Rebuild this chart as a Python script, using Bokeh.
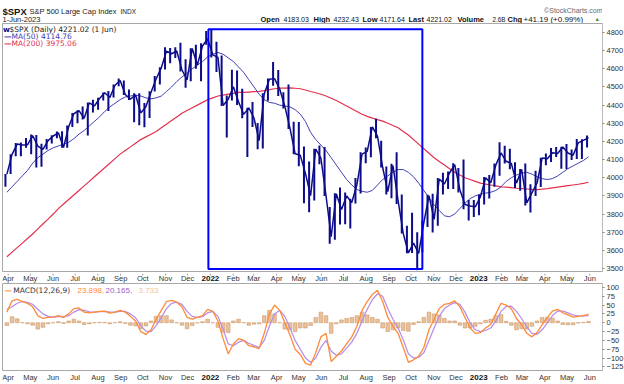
import pandas as pd
from bokeh.plotting import figure
from bokeh.models import Range1d, FixedTicker, Label, BoxAnnotation
from bokeh.layouts import column
from bokeh.core.properties import value
from bokeh.embed import file_html
from bokeh.resources import INLINE

# ---------------- data (weekly readings) ----------------
week_ends = pd.date_range("2021-04-02", "2023-06-02", freq="W-FRI")

close = [4019.87, 4128.80, 4185.47, 4180.17, 4181.17, 4232.60, 4173.85, 4155.86, 4204.11, 4229.89,
         4247.44, 4166.45, 4280.70, 4352.34, 4369.55, 4327.16, 4411.79, 4395.26, 4436.52, 4468.00,
         4441.67, 4509.37, 4535.43, 4458.58, 4432.99, 4455.48, 4357.04, 4391.34, 4471.37, 4544.90,
         4605.38, 4697.53, 4682.85, 4697.96, 4594.62, 4538.43, 4712.02, 4620.64, 4725.79, 4766.18,
         4677.03, 4662.85, 4397.94, 4431.85, 4500.53, 4418.64, 4348.87, 4384.65, 4328.87, 4204.31,
         4463.12, 4543.06, 4545.86, 4488.28, 4392.59, 4271.78, 4131.93, 4123.34, 4023.89, 3901.36,
         4158.24, 4108.54, 3900.86, 3674.84, 3911.74, 3825.33, 3899.38, 3863.16, 3961.63, 4130.29,
         4145.19, 4280.15, 4228.48, 4057.66, 3924.26, 4067.36, 3873.33, 3693.23, 3585.62, 3639.66,
         3583.07, 3752.75, 3901.06, 3770.55, 3992.93, 3965.34, 4026.12, 4071.70, 3934.38, 3852.36,
         3844.82, 3839.50,
         3895.08, 3999.09, 3972.61, 4070.56, 4136.48, 4090.46, 4079.09, 3970.04, 4045.64, 3861.59,
         3916.64, 3970.99, 4109.31, 4105.02, 4137.64, 4133.52, 4169.48, 4136.25, 4124.08, 4191.98,
         4205.45, 4221.02]

high = [4020, 4130, 4191, 4194, 4219, 4238, 4236, 4187, 4213, 4234,
        4255, 4256, 4287, 4356, 4372, 4393, 4415, 4430, 4440, 4470,
        4478, 4513, 4546, 4536, 4486, 4466, 4466, 4412, 4476, 4560,
        4608, 4718, 4714, 4718, 4744, 4652, 4713, 4732, 4741, 4808,
        4818, 4749, 4673, 4453, 4595, 4590, 4490, 4385, 4417, 4302,
        4465, 4546, 4637, 4593, 4471, 4513, 4309, 4307, 4172, 4090,
        4159, 4178, 4169, 3839, 3914, 3946, 3918, 3884, 3999, 4140,
        4167, 4280, 4325, 4203, 4062, 4077, 4140, 3907, 3736, 3807,
        3700, 3763, 3906, 3912, 3998, 4028, 4034, 4080, 4053, 4101,
        3877, 3878,
        3906, 4004, 4015, 4078, 4195, 4176, 4160, 4085, 4048, 4079,
        3964, 4039, 4110, 4133, 4164, 4169, 4171, 4186, 4155, 4213,
        4212, 4232]

low = [3950, 4020, 4118, 4118, 4165, 4130, 4056, 4061, 4156, 4188,
       4218, 4165, 4165, 4279, 4300, 4321, 4233, 4359, 4375, 4425,
       4367, 4442, 4504, 4456, 4428, 4306, 4289, 4278, 4329, 4475,
       4513, 4596, 4630, 4659, 4585, 4495, 4532, 4600, 4531, 4733,
       4662, 4582, 4395, 4222, 4425, 4401, 4327, 4114, 4279, 4157,
       4161, 4424, 4506, 4450, 4381, 4269, 4129, 4063, 3859, 3810,
       3875, 4074, 3900, 3636, 3659, 3743, 3744, 3721, 3858, 3913,
       4080, 4113, 4218, 4057, 3907, 3887, 3855, 3693, 3584, 3585,
       3491, 3590, 3728, 3698, 3735, 3907, 3938, 3938, 3918, 3827,
       3764, 3784,
       3794, 3853, 3885, 3950, 4011, 4079, 4047, 3943, 3928, 3847,
       3808, 3899, 3949, 4069, 4086, 4114, 4049, 4048, 4098, 4103,
       4103, 4166]

ma50 = [3920, 3950, 3980, 4010, 4040, 4080, 4110, 4130, 4150, 4165,
        4175, 4185, 4195, 4215, 4240, 4260, 4285, 4310, 4335, 4365,
        4390, 4410, 4430, 4445, 4450, 4455, 4450, 4440, 4435, 4440,
        4450, 4475, 4500, 4530, 4555, 4575, 4600, 4620, 4640, 4665,
        4680, 4690, 4680, 4660, 4640, 4610, 4580, 4540, 4500, 4460,
        4430, 4415, 4410, 4400, 4395, 4390, 4375, 4350, 4310, 4250,
        4210, 4180, 4150, 4110, 4070, 4030, 3990, 3960, 3935, 3925,
        3920, 3930, 3960, 3990, 4010, 4030, 4045, 4045, 4030, 4005,
        3970, 3930, 3890, 3850, 3820, 3790, 3785, 3800, 3830, 3860,
        3885, 3900,
        3910, 3915, 3920, 3930, 3950, 3980, 4000, 4015, 4025, 4030,
        4020, 4005, 3995, 3990, 3995, 4010, 4030, 4050, 4065, 4080,
        4095, 4114.76]

ma200 = [3565, 3590, 3615, 3640, 3665, 3690, 3718, 3745, 3772, 3800,
         3830, 3855, 3880, 3905, 3930, 3955, 3980, 4005, 4030, 4055,
         4080, 4105, 4130, 4150, 4170, 4190, 4210, 4225, 4240, 4255,
         4275, 4295, 4315, 4335, 4355, 4370, 4385, 4400, 4415, 4430,
         4440, 4450, 4455, 4460, 4465, 4470, 4470, 4472, 4474, 4476,
         4480, 4485, 4490, 4493, 4494, 4495, 4493, 4490, 4483, 4475,
         4468, 4460, 4450, 4438, 4425, 4410, 4395, 4380, 4365, 4350,
         4338, 4328, 4320, 4312, 4300, 4288, 4275, 4255, 4235, 4210,
         4185, 4160, 4135, 4110, 4090, 4070, 4050, 4030, 4015, 4000,
         3990, 3980,
         3970, 3965, 3960, 3955, 3950, 3948, 3945, 3942, 3940, 3938,
         3936, 3935, 3937, 3940, 3944, 3948, 3952, 3956, 3960, 3964,
         3969, 3975.06]

macd = [30, 62, 66, 60, 55, 45, 20, 12, 15, 16,
        20, 15, 25, 40, 42, 30, 28, 30, 32, 33,
        27, 30, 35, 30, 18, 5, -25, -33, -20, 10,
        35, 60, 63, 58, 45, 15, 10, 15, 20, 38,
        32, 5, -45, -88, -60, -45, -50, -65, -68, -73,
        -30, 25, 50, 35, 0, -35, -75, -90, -115, -120,
        -85, -40, -30, -110, -95, -80, -60, -40, -10, 35,
        60, 80, 92, 60, 15, -10, -30, -70, -112, -105,
        -95, -70, -20, 10, 40, 52, 55, 62, 45, 15,
        -15, -30,
        -28, -15, -5, 25, 55, 50, 40, 12, -5, -30,
        -40, -28, -5, 15, 33, 38, 28, 22, 16, 18,
        20, 23.898]

signal = [38, 45, 55, 60, 58, 52, 38, 25, 18, 16,
          17, 17, 20, 30, 37, 35, 31, 30, 31, 32,
          30, 30, 32, 32, 25, 14, -8, -24, -25, -8,
          15, 40, 55, 58, 52, 32, 18, 15, 17, 28,
          32, 18, -18, -60, -65, -55, -50, -58, -64, -70,
          -50, -10, 25, 35, 18, -15, -50, -75, -100, -112,
          -100, -70, -50, -80, -92, -88, -72, -55, -30, 5,
          38, 65, 82, 75, 40, 10, -15, -48, -88, -100,
          -98, -85, -50, -15, 18, 40, 50, 57, 52, 30,
          0, -20,
          -25, -22, -15, 5, 32, 46, 47, 32, 12, -12,
          -30, -33, -20, 0, 20, 33, 33, 28, 22, 19,
          19, 20.165]

hist = [-8, 17, 11, 0, -3, -7, -18, -13, -3, 0,
        3, -2, 5, 10, 5, -5, -3, 0, 1, 1,
        -3, 0, 3, -2, -7, -9, -17, -9, 5, 18,
        20, 20, 8, 0, -7, -17, -8, 0, 3, 10,
        0, -13, -27, -28, 5, 10, 0, -7, -4, -3,
        20, 35, 25, 0, -18, -20, -25, -15, -15, -8,
        15, 30, 20, -30, -3, 8, 12, 15, 20, 30,
        22, 15, 10, -15, -25, -20, -15, -22, -24, -5,
        3, 15, 30, 25, 22, 12, 5, 5, -7, -15,
        -15, -10,
        -3, 7, 10, 20, 23, 4, -7, -20, -17, -18,
        -10, 5, 15, 15, 13, 5, -5, -6, -6, -1,
        1, 3.733]

price_ticks = list(range(3500, 4801, 100))
macd_ticks = list(range(-125, 101, 25))
month_starts = pd.date_range("2021-04-01", "2023-06-01", freq="MS")

box_dates = ["2022-01-01", "2022-10-19"]
box_levels = [3497, 4818]

header_left = ["$SPX", "S&P 500 Large Cap Index", "INDX"]
header_date = "1-Jun-2023"
quote_labels = ["Open", "High", "Low", "Last", "Volume", "Chg"]
quote_values = ["4183.03", "4232.43", "4171.64", "4221.02", "2.6B", "+41.19 (+0.99%)"]

# ---------------- styling ----------------
NAVY = "#0c0c8a"
MA50C = "#4040b4"
MA200C = "#e3304f"
ORANGE = "#ff8a38"
PURPLE = "#b78be6"
AXF = "Liberation Sans"
LEGF = "DejaVu Sans"

DAY = 86400000.0

def ms(d):
    return pd.Timestamp(d).value / 1e6

dates = [ms(d) for d in week_ends]
bar_x = [ms(d - pd.Timedelta(days=2)) for d in week_ends]
tick_ms = [ms(d) for d in month_starts]

x_start, x_end = ms("2021-03-27"), ms("2023-06-21")
FW = 600
LB = 2
HH = 23
FH1 = 249
SH1 = 11
FH2 = 88
SH2 = 12
PX_DAYS = (x_end - x_start) / FW  # ms per pixel


def bare(fig):
    fig.xgrid.visible = False
    fig.ygrid.visible = False
    fig.outline_line_color = None
    return fig


def style_panel(p, yticks):
    p.xgrid.visible = False
    p.ygrid.visible = False
    p.outline_line_color = "#a8a8a8"
    ya = p.yaxis[0]
    ya.ticker = FixedTicker(ticks=yticks)
    ya.major_label_text_font = AXF
    ya.major_label_text_font_size = "7.5px"
    ya.major_label_text_color = "#333333"
    ya.major_tick_out = 2
    ya.major_tick_in = 0
    ya.minor_tick_out = 0
    ya.minor_tick_in = 0
    ya.major_label_standoff = 2
    ya.axis_line_color = "#bbbbbb"
    ya.major_tick_line_color = "#888888"


def date_strip(sh, ty, ticks=True):
    # strip spans from the canvas left edge so the first label is not clipped
    xr = Range1d(x_start - LB * PX_DAYS, x_end)
    s = figure(x_range=xr, y_range=Range1d(0, sh), frame_width=FW + LB, frame_height=sh,
               x_axis_location=None, y_axis_location=None, output_backend="svg",
               toolbar_location=None, min_border_left=0, min_border_right=0,
               min_border_top=0, min_border_bottom=0)
    bare(s)
    if ticks:
        s.segment(x0=tick_ms, y0=[sh] * len(tick_ms), x1=tick_ms, y1=[sh - 2] * len(tick_ms),
                  line_color="#999999", line_width=1)
    months = [(t, d.strftime("%b")) for t, d in zip(tick_ms, month_starts) if d.month != 1]
    years = [(t, str(d.year)) for t, d in zip(tick_ms, month_starts) if d.month == 1]
    s.text(x=[m[0] for m in months], y=[ty] * len(months), text=[m[1] for m in months],
           text_font=value(AXF), text_font_size="7.5px", text_color="#333333",
           text_align="center", text_baseline="middle")
    s.text(x=[m[0] for m in years], y=[ty] * len(years), text=[m[1] for m in years],
           text_font=value(AXF), text_font_size="8px", text_font_style="bold",
           text_color="#111111", text_align="center", text_baseline="middle")
    return s


def lab(p, x, y, text, size, color="#222222", bold=False, align="left", baseline="middle", font=LEGF):
    p.add_layout(Label(x=x, y=y, x_units="screen", y_units="screen", text=text,
                       text_font=font, text_font_size=size, text_color=color,
                       text_font_style="bold" if bold else "normal",
                       text_align=align, text_baseline=baseline))


def htext(h, x, y, text, size, color="#222222", bold=False, align="left"):
    h.text(x=[x], y=[y], text=[text], text_font=value(AXF), text_font_size=size,
           text_color=color, text_font_style="bold" if bold else "normal",
           text_align=align, text_baseline="alphabetic")


# ---------------- header ----------------
hdr = figure(x_range=Range1d(0, FW), y_range=Range1d(0, HH), frame_width=FW, frame_height=HH,
             x_axis_location=None, y_axis_location=None, output_backend="svg",
             toolbar_location=None, min_border_left=LB, min_border_right=0,
             min_border_top=0, min_border_bottom=0)
bare(hdr)
htext(hdr, 0, 12.3, header_left[0], "9.5px", "#111111", bold=True)
htext(hdr, 27, 12.3, header_left[1], "7.5px", "#222222")
htext(hdr, 118, 12.3, header_left[2], "6.5px", "#222222")
htext(hdr, 0, 4.2, header_date, "7.5px", "#222222")
htext(hdr, FW, 13.0, "\u00a9StockCharts.com", "7px", "#666666", align="right")
lab_x = [258, 311, 360, 406, 455, 505]
val_x = [281, 331, 377, 424, 490, 521]
val_sz = ["7px", "7px", "7px", "7px", "6.3px", "8px"]
for lx, vx, lt, vt, vs in zip(lab_x, val_x, quote_labels, quote_values, val_sz):
    htext(hdr, lx, 4.0, lt, "7.5px", "#111111", bold=True)
    htext(hdr, vx, 4.0, vt, vs, "#111111")
htext(hdr, 592, 4.2, "\u25b2", "5.5px", "#2a9a2a")

# ---------------- price panel ----------------
p1 = figure(x_axis_type="datetime", x_range=Range1d(x_start, x_end), y_range=Range1d(3478, 4849.5),
            frame_width=FW, frame_height=FH1, y_axis_location="right", x_axis_location=None,
            output_backend="svg", toolbar_location=None,
            min_border_left=LB, min_border_right=0, min_border_top=0, min_border_bottom=0)
style_panel(p1, price_ticks)

p1.line(dates, ma200, line_color=MA200C, line_width=1.2)
p1.line(dates, ma50, line_color=MA50C, line_width=1.0)
p1.segment(x0=bar_x, y0=low, x1=bar_x, y1=high, line_color=NAVY, line_width=2.0)
p1.line(dates, close, line_color=NAVY, line_width=1.5)

p1.add_layout(BoxAnnotation(left=ms(box_dates[0]), right=ms(box_dates[1]),
                            bottom=box_levels[0], top=box_levels[1],
                            fill_alpha=0, line_color="#0000ff", line_alpha=1.0, line_width=2))

lab(p1, 0.5, FH1 - 5.5, "w", "7.5px", NAVY, bold=True)
lab(p1, 7, FH1 - 5.5, "$SPX (Daily) 4221.02 (1 Jun)", "7.5px", "#222222")
lab(p1, 1.5, FH1 - 12.9, "\u2014", "7.5px", MA50C, bold=True)
lab(p1, 9, FH1 - 12.9, "MA(50) 4114.76", "7.5px", MA50C)
lab(p1, 1.5, FH1 - 20.2, "\u2014", "7.5px", MA200C, bold=True)
lab(p1, 9, FH1 - 20.2, "MA(200) 3975.06", "7.5px", MA200C)

strip1 = date_strip(SH1, 6.0)

# ---------------- MACD panel ----------------
p2 = figure(x_axis_type="datetime", x_range=p1.x_range, y_range=Range1d(-138.0, 111.0),
            frame_width=FW, frame_height=FH2, y_axis_location="right", x_axis_location=None,
            output_backend="svg", toolbar_location=None,
            min_border_left=LB, min_border_right=0, min_border_top=0, min_border_bottom=0)
style_panel(p2, macd_ticks)

p2.vbar(x=dates, top=hist, bottom=0, width=5 * DAY, fill_color="#e8c29c",
        line_color="#c98d58", line_width=0.5)
p2.line(dates, signal, line_color=PURPLE, line_width=1.2)
p2.line(dates, macd, line_color=ORANGE, line_width=1.3)

my = FH2 - 7
lab(p2, 2, my, "\u2014", "7.5px", ORANGE, bold=True)
lab(p2, 10.7, my, "MACD(12,26,9)", "7.5px", "#333333")
lab(p2, 75, my, "23.898,", "8px", ORANGE, font=AXF)
lab(p2, 103, my, "20.165,", "8px", "#9a5fd0", font=AXF)
lab(p2, 136, my, "3.733", "8px", "#f0c49a", font=AXF)

strip2 = date_strip(SH2, 6.5, ticks=False)

layout = column(hdr, p1, strip1, p2, strip2, spacing=0)
open("out.html", "w").write(file_html(layout, INLINE))
